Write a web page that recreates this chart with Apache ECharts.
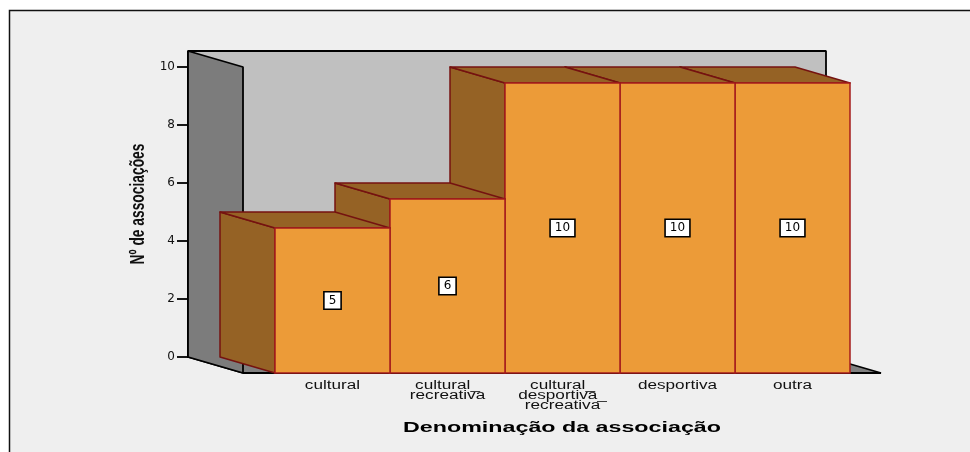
<!DOCTYPE html>
<html>
<head>
<meta charset="utf-8">
<script src="https://cdn.jsdelivr.net/npm/echarts@6/dist/echarts.min.js"></script>
<style>
    html, body { margin: 0; padding: 0; background: #fff; }
    #chart { width: 970px; height: 452px; }
</style>
</head>
<body>
<div id="chart"></div>
<script>
// dados
const categories = ['cultural', 'cultural_\nrecreativa', 'cultural_\ndesportiva_\nrecreativa', 'desportiva', 'outra'];
const values = [5, 6, 10, 10, 10];
const yMax = 10;
const yTickStep = 2;
const yTitle = 'Nº de associações';
const xTitle = 'Denominação da associação';

// efeito 3D
const depthX = 55;
const depthY = 16;
const wallPadLeft = 32;
const wallPadRight = 31;

const FRONT = '#ec9b38';
const SIDE = '#956225';
const EDGE_FRONT = '#a51c1c';
const EDGE_BACK = '#751210';

// paredes e chão, no plano de trás
function renderWalls(params, api) {
    const cs = params.coordSys;
    const left = cs.x - wallPadLeft;
    const right = cs.x + cs.width + wallPadRight;
    const base = api.coord([0, 0])[1];
    const top = api.coord([0, yMax])[1] - depthY;
    const line = { stroke: '#000', lineWidth: 1.8, lineJoin: 'bevel' };
    return {
        type: 'group',
        children: [
            { type: 'rect', shape: { x: left, y: top, width: right - left, height: base - top },
              style: { fill: '#c0c0c0', ...line } },
            { type: 'polygon',
              shape: { points: [[left, base], [right, base], [right + depthX, base + depthY], [left + depthX, base + depthY]] },
              style: { fill: '#808080', ...line } },
            { type: 'polygon',
              shape: { points: [[left, top], [left + depthX, top + depthY], [left + depthX, base + depthY], [left, base]] },
              style: { fill: '#7c7c7c', ...line } }
        ]
    };
}

// barra: lado, topo, frente e etiqueta do valor
function renderBar(params, api) {
    const p = api.coord([api.value(0), api.value(1)]);
    const base = api.coord([api.value(0), 0])[1];
    const w = api.size([1, 0])[0];
    const x0 = p[0] - w / 2;
    const x1 = p[0] + w / 2;
    const y = p[1];
    const back = { stroke: EDGE_BACK, lineWidth: 1.5, lineJoin: 'round' };
    return {
        type: 'group',
        children: [
            { type: 'polygon',
              shape: { points: [[x0 - depthX, y - depthY], [x0, y], [x0, base], [x0 - depthX, base - depthY]] },
              style: { fill: SIDE, ...back } },
            { type: 'polygon',
              shape: { points: [[x0 - depthX, y - depthY], [x1 - depthX, y - depthY], [x1, y], [x0, y]] },
              style: { fill: SIDE, ...back } },
            { type: 'rect', shape: { x: x0, y: y, width: x1 - x0, height: base - y },
              style: { fill: FRONT, stroke: EDGE_FRONT, lineWidth: 1.5 } },
            { type: 'text', x: p[0], y: (y + base) / 2,
              style: {
                  text: String(api.value(1)), fontFamily: 'DejaVu Sans', fontSize: 12, fill: '#000',
                  align: 'center', verticalAlign: 'middle',
                  backgroundColor: '#fff', borderColor: '#000', borderWidth: 1.6, padding: [2, 4, 2, 4]
              } }
        ]
    };
}

// nomes das categorias (esticados como no original)
function renderCategory(params, api) {
    const p = api.coord([api.value(0), 0]);
    return {
        type: 'text', x: p[0], y: p[1] + 8, scaleX: 1.43,
        style: {
            text: categories[api.value(0)], fontFamily: 'Liberation Sans', fontSize: 12, lineHeight: 10,
            fill: '#111', align: 'center', verticalAlign: 'top'
        }
    };
}

const myChart = echarts.init(document.getElementById('chart'));

const option = {
    animation: false,
    backgroundColor: '#fff',
    grid: [
        { left: 220, width: 575, top: 67, height: 290 },
        { left: 275, width: 575, top: 83, height: 290 }
    ],
    xAxis: [
        { type: 'category', gridIndex: 0, data: categories, show: false },
        {
            type: 'category', gridIndex: 1, data: categories,
            axisLine: { show: false },
            axisTick: { alignWithLabel: true, length: 6, lineStyle: { color: '#111', width: 1.3 } },
            axisLabel: { show: false }
        }
    ],
    yAxis: [
        {
            type: 'value', gridIndex: 0, min: 0, max: yMax, interval: yTickStep, offset: wallPadLeft,
            splitLine: { show: false },
            axisLine: { show: true, lineStyle: { color: '#000', width: 1.8 } },
            axisTick: { show: true, length: 11, lineStyle: { color: '#000', width: 1.8 } },
            axisLabel: { margin: 13, fontFamily: 'DejaVu Sans', fontSize: 12, color: '#111' }
        },
        { type: 'value', gridIndex: 1, min: 0, max: yMax, interval: yTickStep, show: false }
    ],
    graphic: [
        { type: 'rect', z: -10, shape: { x: 9.5, y: 10.5, width: 1000, height: 500 },
          style: { fill: '#efefef', stroke: '#111', lineWidth: 1.5 } },
        { type: 'text', x: 138, y: 204, rotation: Math.PI / 2, scaleX: 0.69,
          style: { text: yTitle, fontFamily: 'Liberation Sans', fontWeight: 'bold', fontSize: 20, fill: '#111', align: 'center', verticalAlign: 'middle' } },
        { type: 'text', x: 562, y: 428, scaleX: 1.55,
          style: { text: xTitle, fontFamily: 'Liberation Sans', fontWeight: 'bold', fontSize: 15, fill: '#000', align: 'center', verticalAlign: 'middle' } }
    ],
    series: [
        {
            type: 'custom', name: 'paredes', xAxisIndex: 0, yAxisIndex: 0, z: 1, silent: true,
            data: [[0, 0]], renderItem: renderWalls
        },
        {
            // da direita para a esquerda: a frente de cada barra tapa o lado da seguinte
            type: 'custom', name: 'Nº de associações', xAxisIndex: 1, yAxisIndex: 1, z: 2,
            encode: { x: 0, y: 1 },
            data: values.map((v, i) => [i, v]).reverse(), renderItem: renderBar
        },
        {
            type: 'custom', name: 'categorias', xAxisIndex: 1, yAxisIndex: 1, z: 3, silent: true,
            data: categories.map((c, i) => [i, 0]), renderItem: renderCategory
        }
    ]
};

myChart.setOption(option);

window.addEventListener('resize', function () {
    myChart.resize();
});
</script>
</body>
</html>
